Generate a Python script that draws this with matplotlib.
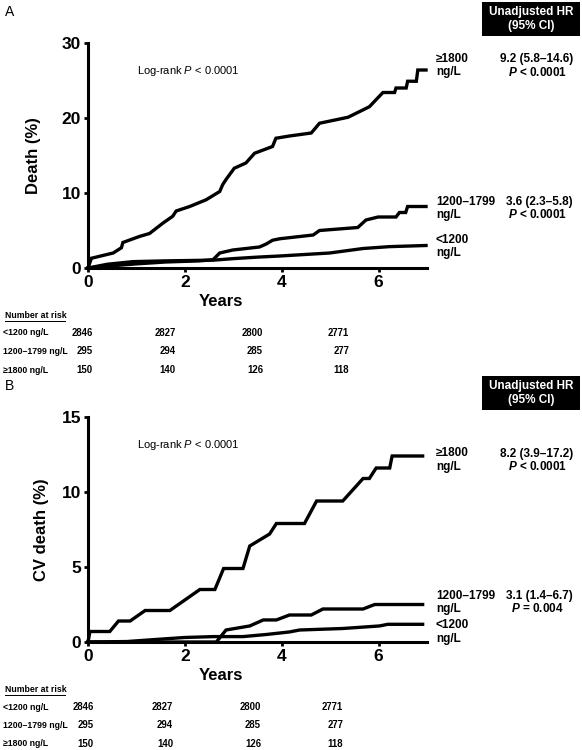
import matplotlib

matplotlib.use("Agg")
import matplotlib.pyplot as plt
from matplotlib.patches import Rectangle

plt.rcParams["font.family"] = ["Liberation Sans", "DejaVu Sans"]
plt.rcParams["mathtext.fontset"] = "custom"
plt.rcParams["mathtext.rm"] = "Liberation Sans"
plt.rcParams["mathtext.it"] = "Liberation Sans:italic"
plt.rcParams["mathtext.bfit"] = "Liberation Sans:italic:bold"

# ---- data ----
# Panel A: all-cause death (%)
a_high_t = [0, 0.07, 0.52, 0.69, 0.72, 1.06, 1.27, 1.55, 1.75, 1.82, 2.1, 2.44, 2.72, 2.78,
            2.85, 3.02, 3.26, 3.44, 3.81, 3.88, 4.16, 4.61, 4.78, 5.37, 5.81, 6.09, 6.33,
            6.36, 6.57, 6.60, 6.78, 6.81, 6.98]
a_high_y = [0, 1.3, 2.0, 2.7, 3.4, 4.2, 4.6, 6.0, 6.9, 7.6, 8.2, 9.1, 10.2, 11.1,
            11.8, 13.3, 14.0, 15.3, 16.2, 17.3, 17.6, 18.0, 19.3, 20.1, 21.5, 23.4, 23.4,
            24.0, 24.0, 24.9, 24.9, 26.4, 26.4]
a_mid_t = [0, 0.5, 1.0, 1.6, 2.3, 2.58, 2.72, 2.99, 3.54, 3.68, 3.81, 3.96, 4.65, 4.78,
           5.57, 5.74, 5.99, 6.36, 6.43, 6.56, 6.60, 6.98]
a_mid_y = [0, 0.3, 0.55, 0.8, 0.95, 1.1, 2.0, 2.4, 2.8, 3.2, 3.7, 3.9, 4.4, 5.0,
           5.4, 6.4, 6.8, 6.8, 7.4, 7.4, 8.2, 8.2]
a_low_t = [0, 0.4, 0.93, 1.6, 2.6, 3.0, 3.5, 3.96, 4.99, 5.68, 6.23, 6.98]
a_low_y = [0, 0.5, 0.85, 0.95, 1.05, 1.25, 1.45, 1.6, 2.0, 2.6, 2.85, 3.0]

# Panel B: CV death (%)
b_high_t = [0, 0.04, 0.45, 0.63, 0.87, 1.18, 1.69, 2.31, 2.62, 2.80, 3.20, 3.34, 3.75,
            3.89, 4.47, 4.72, 5.26, 5.68, 5.81, 5.95, 6.23, 6.28, 6.91]
b_high_y = [0, 0.7, 0.7, 1.4, 1.4, 2.1, 2.1, 3.5, 3.5, 4.9, 4.9, 6.4, 7.2,
            7.9, 7.9, 9.4, 9.4, 10.9, 10.9, 11.6, 11.6, 12.4, 12.4]
b_mid_t = [0, 2.65, 2.85, 3.34, 3.62, 3.89, 4.16, 4.61, 4.85, 5.68, 5.92, 6.91]
b_mid_y = [0, 0, 0.8, 1.07, 1.47, 1.47, 1.8, 1.8, 2.2, 2.2, 2.5, 2.5]
b_low_t = [0, 0.8, 1.32, 1.99, 2.6, 3.2, 3.68, 4.16, 4.37, 5.26, 6.02, 6.19, 6.91]
b_low_y = [0, 0.03, 0.15, 0.3, 0.36, 0.36, 0.5, 0.67, 0.8, 0.9, 1.07, 1.18, 1.18]

group_names = ["≥1800\nng/L", "1200–1799\nng/L", "<1200\nng/L"]
a_hr = ["9.2 (5.8–14.6)", "3.6 (2.3–5.8)", None]
a_hr_p = ["$\\mathbfit{P}$ < 0.0001", "$\\mathbfit{P}$ < 0.0001", None]
b_hr = ["8.2 (3.9–17.2)", "3.1 (1.4–6.7)", None]
b_hr_p = ["$\\mathbfit{P}$ < 0.0001", "$\\mathbfit{P}$ = 0.004", None]

risk_labels = ["<1200 ng/L", "1200–1799 ng/L", "≥1800 ng/L"]
risk_a = [[2846, 2827, 2800, 2771], [295, 294, 285, 277], [150, 140, 126, 118]]
risk_b = [[2846, 2827, 2800, 2771], [295, 294, 285, 277], [150, 140, 126, 118]]

x_ticks = [0, 2, 4, 6]
a_yticks = [0, 10, 20, 30]
b_yticks = [0, 5, 10, 15]

W, H = 582, 750


def px(x, y):
    return x / W, 1 - y / H


def style_axis(ax, yticks, ylabel, labelpad):
    for s in ("top", "right"):
        ax.spines[s].set_visible(False)
    for s in ("left", "bottom"):
        ax.spines[s].set_linewidth(2.2)
    ax.set_xlim(0, 7)
    ax.set_ylim(yticks[0], yticks[-1])
    ax.set_xticks(x_ticks)
    ax.set_yticks(yticks)
    ax.tick_params(direction="out", length=3, width=2, labelsize=12.5, pad=2)
    for lab in ax.get_xticklabels() + ax.get_yticklabels():
        lab.set_fontweight("bold")
    ax.set_ylabel(ylabel, fontsize=12, fontweight="bold", labelpad=labelpad)


def draw_panel(top, curves, yticks, ylabel, labelpad, letter, hr, hr_p, label_y,
               risk, risk_cols):
    ax = fig.add_axes([88 / W, 1 - (top + 225) / H, 339 / W, 225 / H])
    for t, y in curves:
        ax.plot(t, y, color="black", lw=2.4, solid_joinstyle="miter", clip_on=False, zorder=3)
    style_axis(ax, yticks, ylabel, labelpad)

    fig.text(*px(5, top - 31), letter, fontsize=10, va="center")
    fig.text(*px(137, top + 28), "Log-rank $P$ < 0.0001", fontsize=8, va="center")

    # HR header box
    fig.patches.append(Rectangle(px(482, top - 7), 98 / W, 34 / H, transform=fig.transFigure,
                                 facecolor="black", edgecolor="none"))
    fig.text(*px(531, top - 31), "Unadjusted HR", color="white", fontsize=8.5,
             fontweight="bold", ha="center", va="center")
    fig.text(*px(531, top - 17), "(95% CI)", color="white", fontsize=8.5,
             fontweight="bold", ha="center", va="center")

    for name, ci, p, ly in zip(group_names, hr, hr_p, label_y):
        fig.text(*px(436, ly), name, fontsize=8.5, fontweight="bold", va="center",
                 linespacing=1.15)
        if ci:
            fig.text(*px(573, ly - 6.5), ci, fontsize=8.5, fontweight="bold",
                     ha="right", va="center")
            fig.text(*px(537, ly + 6.5), p, fontsize=8.5, fontweight="bold",
                     ha="center", va="center")

    # Years label
    fig.text(*px(221, top + 258), "Years", fontsize=12, fontweight="bold",
             ha="center", va="center")

    # number at risk table
    ty = top + 273
    fig.text(*px(5, ty), "Number at risk", fontsize=6.3, fontweight="bold", va="center")
    fig.patches.append(Rectangle(px(5, ty + 6), 61 / W, 0.8 / H, transform=fig.transFigure,
                                 facecolor="black", edgecolor="none"))
    for i, (lab, row) in enumerate(zip(risk_labels, risk)):
        ry = ty + 17 + i * 18.5
        fig.text(*px(3, ry), lab, fontsize=6.3, fontweight="bold", va="center")
        for xr, n in zip(risk_cols, row):
            fig.text(*px(xr, ry), str(n), fontsize=6.9, fontweight="bold",
                     ha="right", va="center")
    return ax


fig = plt.figure(figsize=(W / 100, H / 100), dpi=100)

draw_panel(43, [(a_high_t, a_high_y), (a_mid_t, a_mid_y), (a_low_t, a_low_y)],
           a_yticks, "Death (%)", 15, "A", a_hr, a_hr_p, [65.5, 208.5, 246.5],
           risk_a, [93, 176, 263, 349])
draw_panel(417, [(b_high_t, b_high_y), (b_mid_t, b_mid_y), (b_low_t, b_low_y)],
           b_yticks, "CV death (%)", 9, "B", b_hr, b_hr_p, [460, 602.5, 632],
           risk_b, [94, 173, 261, 343])

fig.savefig("out.png", dpi=100)
